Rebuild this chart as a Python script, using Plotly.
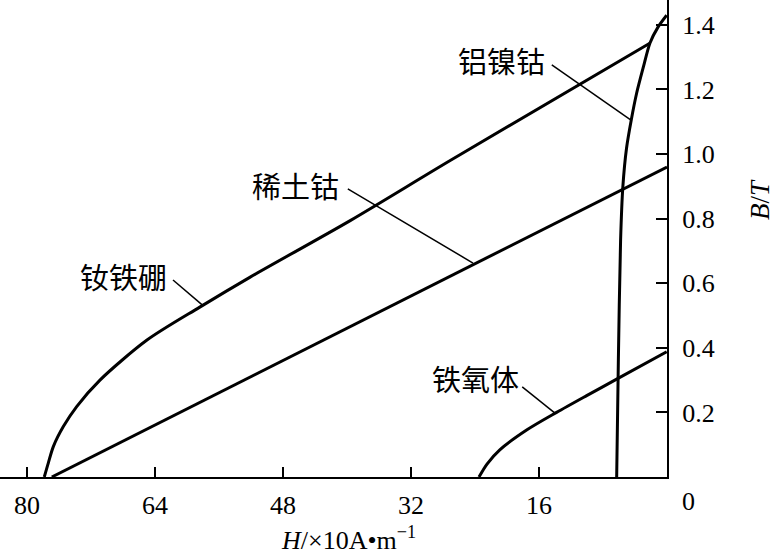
import plotly.graph_objects as go

# --- data (H in x10 A/m, B in T) ---
ndfeb_H = [77.84, 77.34, 76.71, 75.46, 73.79, 70.88, 65.0, 58.4, 52.1, 39.6, 27.1, 2.1]
ndfeb_B = [0.0, 0.043, 0.094, 0.156, 0.218, 0.300, 0.424, 0.526, 0.619, 0.794, 0.98, 1.344]

smco_H = [76.9, 0.0]
smco_B = [0.0, 0.96]

alnico_H = [6.29, 6.08, 5.80, 5.52, 5.06, 4.45, 3.79, 2.96, 2.125, 1.125, 0.04]
alnico_B = [0.0, 0.362, 0.734, 0.898, 1.018, 1.108, 1.189, 1.269, 1.344, 1.393, 1.43]

ferrite_H = [23.5, 22.5, 20.9, 17.5, 13.8, 10.04, 6.29, 0.04]
ferrite_B = [0.0, 0.040, 0.084, 0.146, 0.200, 0.252, 0.303, 0.388]

# labels: name, text position, leader start, leader end
label_names = ["钕铁硼", "稀土钴", "铝镍钴", "铁氧体"]
label_pos = [(68.0, 0.622), (46.4, 0.904), (20.75, 1.291), (24.0, 0.307)]
leader_start = [(61.75, 0.61), (39.9, 0.892), (14.4, 1.276), (18.1, 0.279)]
leader_end = [(58.1, 0.533), (24.25, 0.6625), (4.5, 1.105), (14.0, 0.198)]

x_ticks = [80, 64, 48, 32, 16]
y_ticks = [0.2, 0.4, 0.6, 0.8, 1.0, 1.2, 1.4]
y_ticklabels = ["0.2", "0.4", "0.6", "0.8", "1.0", "1.2", "1.4"]

line_style = dict(color="black", width=3)

fig = go.Figure()
for H, B in [(ndfeb_H, ndfeb_B), (smco_H, smco_B), (alnico_H, alnico_B), (ferrite_H, ferrite_B)]:
    fig.add_trace(go.Scatter(x=H, y=B, mode="lines", line=dict(shape="spline", smoothing=0.8, **line_style),
                             showlegend=False, hoverinfo="skip"))

for name, (tx, ty), (sx, sy), (ex, ey) in zip(label_names, label_pos, leader_start, leader_end):
    fig.add_annotation(x=tx, y=ty, text=name, showarrow=False,
                       font=dict(family="Noto Sans CJK SC", size=29, color="black"))
    fig.add_shape(type="line", x0=sx, y0=sy, x1=ex, y1=ey, xref="x", yref="y",
                  line=dict(color="black", width=1.5))

serif = dict(family="Liberation Serif", size=26, color="black")
title_font = dict(family="Liberation Serif", size=27, color="black")

# corner zero label
fig.add_annotation(x=1, y=0, xref="paper", yref="paper", text="0", showarrow=False,
                   xanchor="left", yanchor="top", xshift=13, yshift=-8, font=serif)

# axis titles
fig.add_annotation(x=348 / 667, y=-61 / 477, xref="x domain", yref="y domain",
                   text="<i>H</i>/×10A•m<sup>−1</sup>", showarrow=False,
                   font=dict(family="Liberation Serif", size=26, color="black"),
                   xanchor="center", yanchor="middle")
fig.add_annotation(x=760 / 667, y=(477 - 200) / 477, xref="x domain", yref="y domain",
                   text="<i>B</i>/<i>T</i>", showarrow=False, textangle=-90, font=title_font,
                   xanchor="center", yanchor="middle")

fig.update_layout(
    width=776, height=556,
    margin=dict(l=0, r=109, t=0, b=79),
    paper_bgcolor="white", plot_bgcolor="white",
    xaxis=dict(range=[83.375, 0], tickvals=x_ticks, ticktext=[str(v) for v in x_ticks],
               ticks="inside", ticklen=10, tickwidth=1.5, tickcolor="black",
               showline=True, linecolor="black", linewidth=2, showgrid=False, zeroline=False,
               tickfont=serif, ticklabelstandoff=4),
    yaxis=dict(range=[0, 1.477], side="right", tickvals=y_ticks, ticktext=y_ticklabels,
               ticks="inside", ticklen=11, tickwidth=1.5, tickcolor="black",
               showline=True, linecolor="black", linewidth=2, showgrid=False, zeroline=False,
               tickfont=serif, ticklabelstandoff=8),
)

fig.write_html("out.html")
